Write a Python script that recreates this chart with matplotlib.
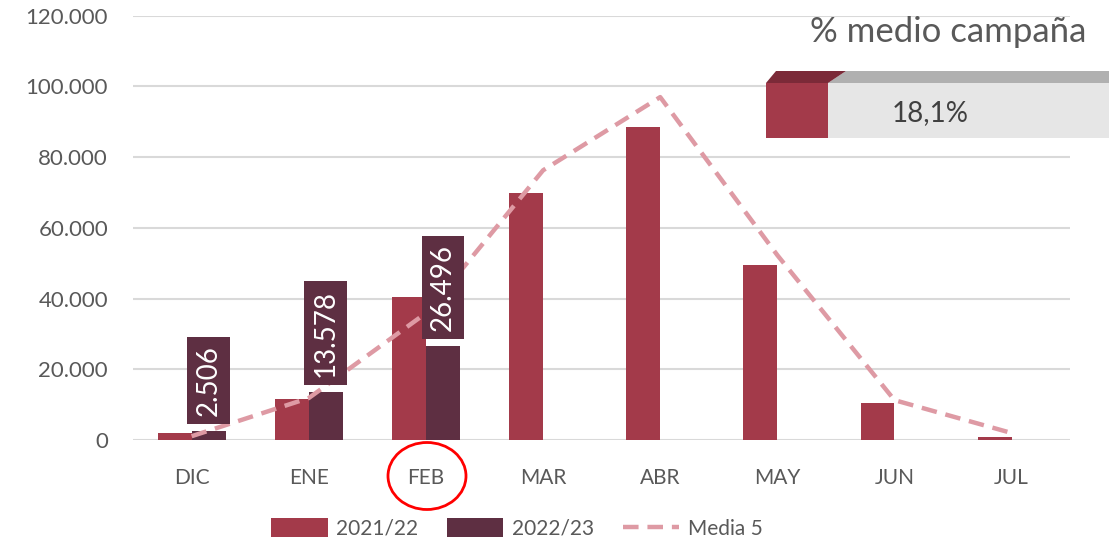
import matplotlib
matplotlib.use("Agg")
import matplotlib.pyplot as plt
import numpy as np
from matplotlib.patches import Polygon, Rectangle, Ellipse

plt.rcParams['font.family'] = ['Lato', 'DejaVu Sans']

categories = ["DIC", "ENE", "FEB", "MAR", "ABR", "MAY", "JUN", "JUL"]
s2021 = [2000, 11600, 40400, 69900, 88500, 49500, 10500, 800]
s2022 = [2506, 13578, 26496]
media5 = [1100, 11900, 35900, 76300, 97000, 52300, 11300, 2000]
label2022 = ["2.506", "13.578", "26.496"]
yticks = [0, 20000, 40000, 60000, 80000, 100000, 120000]
yticklabels = ["0", "20.000", "40.000", "60.000", "80.000", "100.000", "120.000"]
pct_text = "18,1%"

RED = "#A33A4A"
DARK = "#5E2F42"
PINK = "#DE9AA4"
GREY_TXT = "#595959"

fig = plt.figure(figsize=(11.09, 5.44), dpi=100)
ax = fig.add_axes([0.12, 0.191, 0.845, 0.78])

x = np.arange(len(categories))
w = 0.29
b1 = ax.bar(x - w/2, s2021, width=w, color=RED, zorder=2, label="2021/22")
x2 = x[:len(s2022)]
b2 = ax.bar(x2 + w/2, s2022, width=w, color=DARK, zorder=2, label="2022/23")
l1, = ax.plot(x, media5, color=PINK, lw=3.2, ls=(0, (3.5, 2)), zorder=3, label="Media 5")

for xi, v, t in zip(x2, s2022, label2022):
    ax.annotate(t, xy=(xi + w/2, v), xytext=(0, 11), textcoords="offset points",
                rotation=90, ha="center", va="bottom", color="white", fontsize=20,
                bbox=dict(boxstyle="square,pad=0.3", fc=DARK, ec="none"), zorder=4)

ax.set_xlim(-0.5, len(categories) - 0.5)
ax.set_ylim(0, 120000)
ax.set_yticks(yticks)
ax.set_yticklabels(yticklabels)
ax.set_xticks(x)
ax.set_xticklabels(categories)
ax.tick_params(axis="y", length=0, pad=18, labelsize=16, labelcolor=GREY_TXT)
ax.tick_params(axis="x", length=0, pad=20, labelsize=15, labelcolor=GREY_TXT)
ax.grid(axis="y", color="#D9D9D9", lw=1.5, zorder=0)
for s in ax.spines.values():
    s.set_visible(False)

def fx(px):
    return px / 1109
def fy(py):
    return 1 - py / 544

# red circle around FEB
circ = Ellipse((fx(427), fy(476)), 78/1109, 67/544, transform=fig.transFigure,
               fill=False, ec="#FF0000", lw=2, clip_on=False)
fig.add_artist(circ)

# "% medio campaña" box
fig.text(fx(1086), fy(32), "% medio campaña", ha="right", va="center",
         fontsize=25, color=GREY_TXT)
fig.add_artist(Rectangle((fx(828), fy(138)), fx(1109) - fx(828), fy(83) - fy(138),
                         transform=fig.transFigure, fc="#E6E6E6", ec="none"))
fig.add_artist(Polygon([(fx(828), fy(83)), (fx(846), fy(71)), (fx(1109), fy(71)), (fx(1109), fy(83))],
                       closed=True, transform=fig.transFigure, fc="#B0B0B0", ec="none"))
fig.add_artist(Rectangle((fx(766), fy(138)), fx(828) - fx(766), fy(83) - fy(138),
                         transform=fig.transFigure, fc=RED, ec="none"))
fig.add_artist(Polygon([(fx(766), fy(83)), (fx(776), fy(71)), (fx(846), fy(71)), (fx(828), fy(83))],
                       closed=True, transform=fig.transFigure, fc="#7B2A38", ec="none"))
fig.text(fx(930), fy(113), pct_text, ha="center", va="center", fontsize=20, color="#404040")

leg = fig.legend([b1, b2, l1], ["2021/22", "2022/23", "Media 5"], loc="lower center",
                 bbox_to_anchor=(0.466, -0.025), ncol=3,
                 frameon=False, fontsize=15, labelcolor=GREY_TXT, handlelength=2.7,
                 handleheight=1.0, columnspacing=1.4, handletextpad=0.4)

fig.savefig("out.png", dpi=100)
